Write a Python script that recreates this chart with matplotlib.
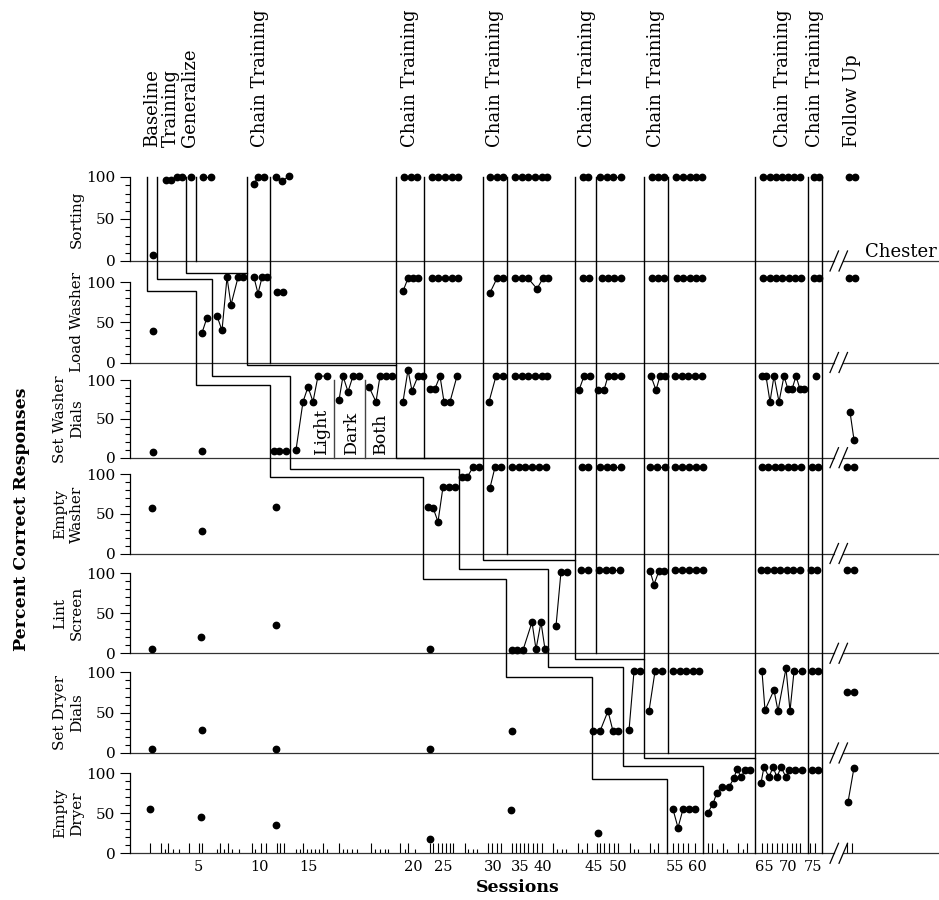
import matplotlib
matplotlib.use("Agg")
import matplotlib.pyplot as plt

plt.rcParams['font.family'] = ['DejaVu Serif']

# ---------------------------------------------------------------- data
row_labels = ["Sorting", "Load Washer", "Set Washer\nDials", "Empty\nWasher",
              "Lint\nScreen", "Set Dryer\nDials", "Empty\nDryer"]

# each row: list of phases -> (session positions on the x scale, percent correct)
sorting = [
    ([153], [7]),
    ([166, 171, 177, 182], [97, 97, 100, 100]),
    ([191], [100]),
    ([203, 211], [100, 100]),
    ([254, 258, 264], [92, 100, 100]),
    ([276, 282, 289], [100, 95, 101]),
    ([404, 411, 417], [100, 100, 100]),
    ([432, 438, 445, 452, 458], [100, 100, 100, 100, 100]),
    ([490, 497, 503], [100, 100, 100]),
    ([515, 522, 528, 535, 542, 547], [100, 100, 100, 100, 100, 100]),
    ([583, 588], [100, 100]),
    ([600, 607, 613, 621], [100, 100, 100, 100]),
    ([652, 658, 664], [100, 100, 100]),
    ([676, 683, 690, 696, 702], [100, 100, 100, 100, 100]),
    ([763, 770, 776, 782, 788, 794, 800], [100, 100, 100, 100, 100, 100, 100]),
    ([814, 819], [100, 100]),
    ([849, 855], [100, 100]),
]

load_washer = [
    ([153], [39]),
    ([202, 207], [37, 56]),
    ([217, 222, 227, 231, 238, 243], [58, 40, 106, 72, 106, 106]),
    ([254, 258, 262, 267], [106, 86, 106, 106]),
    ([277, 283], [88, 88]),
    ([403, 408, 413, 418], [89, 105, 105, 105]),
    ([432, 438, 445, 452, 458], [105, 105, 105, 105, 105]),
    ([490, 497, 503], [87, 105, 105]),
    ([515, 522, 528, 537, 543, 548], [105, 105, 105, 92, 105, 105]),
    ([583, 589], [105, 105]),
    ([602, 608, 614, 621], [105, 105, 105, 105]),
    ([652, 658, 664], [105, 105, 105]),
    ([677, 683, 690, 696, 702], [105, 105, 105, 105, 105]),
    ([763, 770, 776, 782, 789, 795, 801], [105, 105, 105, 105, 105, 105, 105]),
    ([814, 819], [105, 105]),
    ([849, 855], [105, 105]),
]

set_washer_dials = [
    ([153], [7]),
    ([202], [8]),
    ([274, 279, 286], [8, 8, 8]),
    ([296, 303, 308, 313, 318, 327], [10, 72, 91, 72, 105, 105]),
    ([339, 343, 348, 353, 359], [74, 105, 85, 105, 105]),
    ([369, 376, 380, 386, 392], [91, 72, 105, 105, 105]),
    ([403, 408, 412, 418, 423], [72, 113, 86, 105, 105]),
    ([430, 435, 440, 444, 450, 457], [89, 89, 105, 72, 72, 105]),
    ([489, 496, 503], [72, 105, 105]),
    ([515, 522, 528, 535, 542, 547], [105, 105, 105, 105, 105, 105]),
    ([579, 584, 590], [87, 105, 105]),
    ([598, 604, 608, 614, 621], [87, 87, 105, 105, 105]),
    ([651, 656, 660, 665], [105, 87, 105, 105]),
    ([675, 682, 688, 695, 702], [105, 105, 105, 105, 105]),
    ([762, 766, 770, 774, 779, 784, 788, 792, 796, 800, 804],
     [105, 105, 72, 105, 72, 105, 88, 88, 105, 88, 88]),
    ([816], [105]),
    ([850, 854], [59, 23]),
]

empty_washer = [
    ([152], [57]),
    ([202], [29]),
    ([276], [59]),
    ([428, 433, 438, 443, 449, 455], [59, 58, 40, 84, 84, 84]),
    ([462, 467, 473, 479], [96, 96, 109, 109]),
    ([490, 495, 501], [83, 109, 109]),
    ([512, 519, 525, 532, 539, 546], [109, 109, 109, 109, 109, 109]),
    ([582, 588], [109, 109]),
    ([600, 607, 613, 621], [109, 109, 109, 109]),
    ([650, 657, 665], [109, 109, 109]),
    ([675, 682, 689, 696, 703], [109, 109, 109, 109, 109]),
    ([762, 768, 775, 781, 788, 794, 801], [109, 109, 109, 109, 109, 109, 109]),
    ([812, 818], [109, 109]),
    ([847, 854], [109, 109]),
]

lint_screen = [
    ([152], [6]),
    ([201], [20]),
    ([276], [36]),
    ([430], [6]),
    ([512, 517, 523, 532, 536, 541, 545], [4, 4, 4, 39, 5, 39, 5]),
    ([556, 561, 567], [34, 102, 102]),
    ([581, 588], [104, 104]),
    ([599, 606, 612, 620], [104, 104, 104, 104]),
    ([650, 654, 659, 664], [103, 86, 103, 103]),
    ([675, 682, 689, 696, 703], [104, 104, 104, 104, 104]),
    ([761, 767, 774, 780, 787, 793, 800], [104, 104, 104, 104, 104, 104, 104]),
    ([811, 817], [104, 104]),
    ([847, 854], [104, 104]),
]

set_dryer_dials = [
    ([152], [5]),
    ([202], [28]),
    ([276], [5]),
    ([430], [5]),
    ([512], [27]),
    ([593, 600, 608, 613, 618], [27, 27, 52, 27, 27]),
    ([629, 634, 640], [28, 101, 101]),
    ([649, 655, 662], [52, 101, 101]),
    ([673, 680, 686, 693, 699], [101, 101, 101, 101, 101]),
    ([762, 765, 774, 778, 786, 790, 794, 802], [101, 53, 78, 52, 105, 52, 101, 101]),
    ([812, 818], [101, 101]),
    ([847, 854], [75, 75]),
]

empty_dryer = [
    ([150], [55]),
    ([201], [45]),
    ([276], [36]),
    ([430], [18]),
    ([511], [54]),
    ([598], [26]),
    ([673, 678, 683, 689, 695], [55, 32, 55, 55, 55]),
    ([708, 713, 717, 722, 729, 734, 737, 741, 745, 750],
     [51, 62, 76, 83, 83, 94, 106, 95, 104, 104]),
    ([761, 764, 769, 773, 777, 781, 786, 789, 795, 802],
     [88, 108, 95, 108, 95, 108, 95, 104, 104, 104]),
    ([812, 818], [104, 104]),
    ([848, 854], [64, 107]),
]

rows_data = [sorting, load_washer, set_washer_dials, empty_washer,
             lint_screen, set_dryer_dials, empty_dryer]

# session axis labels
session_labels = ["5", "10", "15", "20", "25", "30", "35", "40", "45", "50",
                  "55", "60", "65", "70", "75"]
session_label_pos = [198, 260, 308, 413, 443, 493, 520, 543, 594, 618,
                     675, 697, 764, 788, 813]
session_ticks_long = [150, 161, 168, 189, 199, 202, 220, 228, 252, 261, 266, 277,
                      280, 284, 303, 323, 339, 371, 400, 408, 430, 433, 438, 442,
                      446, 450, 453, 465, 488, 492, 497, 501, 512, 516, 520, 524,
                      528, 533, 537, 542, 553, 578, 587, 597, 600, 604, 609, 614,
                      618, 630, 650, 658, 673, 678, 683, 688, 695, 708, 712, 723,
                      738, 747, 762, 767, 772, 777, 782, 787, 792, 796, 800, 810,
                      815, 847, 852]
session_ticks_short = [165, 173, 179, 217, 224, 232, 239, 255, 296, 300, 307, 311,
                       315, 319, 327, 343, 347, 352, 357, 375, 380, 385, 388, 405,
                       415, 468, 473, 477, 557, 562, 566, 582, 634, 638, 654, 717,
                       727, 743]

# phase-change lines (x position of the vertical segment in every tier)
stair_baseline = [147, 196, 270, 423, 506, 592, 667]
stair_baseline_steps = [89, 93, 97, 93, 94, 93]
stair_training = [157, 212, 290, 459, 548, 623, 703]
stair_training_steps = [104, 105.5, 106.7, 105.4, 106.7, 109]
stair_chain = [186, 247, 396, 483, 575, 644, 755]
stair_chain_steps = [112, 119, 120, 116.6, 116, 119]
# end-of-chain-training lines: (x, tier where they stop)
chain_end_lines = [(196, 0), (270, 1), (424, 2), (507, 3), (596, 4), (668, 5),
                   (808, 6), (822, 6)]
swd_sub_phase_lines = [334, 365]
swd_sub_phase_labels = [("Light", 321), ("Dark", 351), ("Both", 380)]

phase_labels = [("Baseline\nTraining\nGeneralize", 171), ("Chain Training", 260),
                ("Chain Training", 410), ("Chain Training", 495),
                ("Chain Training", 587), ("Chain Training", 656),
                ("Chain Training", 783), ("Chain Training", 815),
                ("Follow Up", 852)]

# ---------------------------------------------------------------- layout
W, H = 939, 900
BASE = [261, 362.5, 457.7, 553.5, 653.3, 753, 853.3]      # y (px) of 0 %
TOP100 = [177, 282.3, 380, 474.3, 573.3, 672.3, 773.3]    # y (px) of 100 %
X_LEFT, X_RIGHT = 130, 939
BREAK_X = 838
INK = "black"


def to_py(r, v):
    return BASE[r] - v * (BASE[r] - TOP100[r]) / 100.0


fig = plt.figure(figsize=(W / 100, H / 100), dpi=100)
fig.patch.set_facecolor("white")

axes = []
for r in range(7):
    top_px = BASE[r - 1] if r > 0 else 160
    ax = fig.add_axes([X_LEFT / W, 1 - BASE[r] / H, (X_RIGHT - X_LEFT) / W,
                       (BASE[r] - top_px) / H])
    ax.set_xlim(X_LEFT, X_RIGHT)
    ax.set_ylim(0, 100 * (BASE[r] - top_px) / (BASE[r] - TOP100[r]))
    ax.patch.set_alpha(0)
    for s in ("top", "right", "bottom"):
        ax.spines[s].set_visible(False)
    ax.spines["left"].set_bounds(0, 100)
    ax.spines["left"].set_linewidth(0.9)
    ax.set_yticks([0, 50, 100])
    ax.set_yticklabels(["0", "50", "100"])
    ax.set_yticks(range(0, 101, 10), minor=True)
    ax.tick_params(axis="y", which="major", length=7.2, width=0.8, pad=3.2,
                   labelsize=11)
    ax.tick_params(axis="y", which="minor", length=3.6, width=0.8)
    ax.set_xticks([])
    # baseline, broken before follow-up
    ax.plot([X_LEFT, BREAK_X - 4], [0, 0], color="#333333", lw=0.9, clip_on=False)
    ax.plot([BREAK_X + 5, X_RIGHT], [0, 0], color="#333333", lw=0.9, clip_on=False)
    for xs, vs in rows_data[r]:
        ax.plot(xs, vs, "-o", color=INK, ms=4.6, lw=0.8, clip_on=False, zorder=3)
    axes.append(ax)

# session ticks and labels on the bottom tier
axb = axes[-1]
axb.vlines(session_ticks_long, 0, 12.5, color=INK, lw=0.8)
axb.vlines(session_ticks_short, 0, 6, color=INK, lw=0.8)
axb.set_xticks(session_label_pos)
axb.set_xticklabels(session_labels, fontsize=10.5)
axb.tick_params(axis="x", length=0, pad=5)

# overlay in pixel units for phase lines and labels
ov = fig.add_axes([0, 0, 1, 1], zorder=5)
ov.set_xlim(0, W)
ov.set_ylim(H, 0)
ov.axis("off")
ov.patch.set_alpha(0)
LW_PHASE = 1.0


def staircase(xs, steps, from_top_each=False):
    px, py = [xs[0]], [to_py(0, 100)]
    for r in range(6):
        y = to_py(r + 1, steps[r])
        px += [xs[r], xs[r + 1]]
        py += [y, y]
    px.append(xs[6])
    py.append(BASE[6])
    ov.plot(px, py, color=INK, lw=LW_PHASE, solid_joinstyle="miter")
    if from_top_each:
        for r in range(1, 7):
            ov.plot([xs[r], xs[r]], [to_py(0, 100), to_py(r, steps[r - 1])],
                    color=INK, lw=LW_PHASE)


staircase(stair_baseline, stair_baseline_steps)
staircase(stair_training, stair_training_steps)
staircase(stair_chain, stair_chain_steps, from_top_each=True)
for x, r in chain_end_lines:
    ov.plot([x, x], [to_py(0, 100), BASE[r]], color=INK, lw=LW_PHASE)
for x in swd_sub_phase_lines:
    ov.plot([x, x], [to_py(2, 100), BASE[2]], color="#444444", lw=LW_PHASE)
for txt, x in swd_sub_phase_labels:
    ov.text(x, BASE[2] - 4, txt, rotation=90, ha="center", va="bottom", fontsize=12.5)

# break marks
for r in range(7):
    for dx in (-8, 1):
        ov.plot([BREAK_X + dx, BREAK_X + dx + 8.5], [BASE[r] + 10, BASE[r] - 10],
                color=INK, lw=0.9)

# phase labels
for txt, x in phase_labels:
    ov.text(x, 147, txt, rotation=90, ha="center", va="bottom", fontsize=13,
            multialignment="left", linespacing=1.1)

# tier labels
for r, name in enumerate(row_labels):
    ov.text(84, (BASE[r] + TOP100[r]) / 2, name, rotation=90, ha="right",
            va="center", multialignment="center", fontsize=11, linespacing=1.25)

ov.text(22, 519, "Percent Correct Responses", rotation=90, ha="center", va="center",
        fontsize=12.5, fontweight="bold")
ov.text(518, 888, "Sessions", ha="center", va="center", fontsize=12.5,
        fontweight="bold")
ov.text(937, 257, "Chester", ha="right", va="baseline", fontsize=13)

fig.savefig("out.png", dpi=100, facecolor="white")
